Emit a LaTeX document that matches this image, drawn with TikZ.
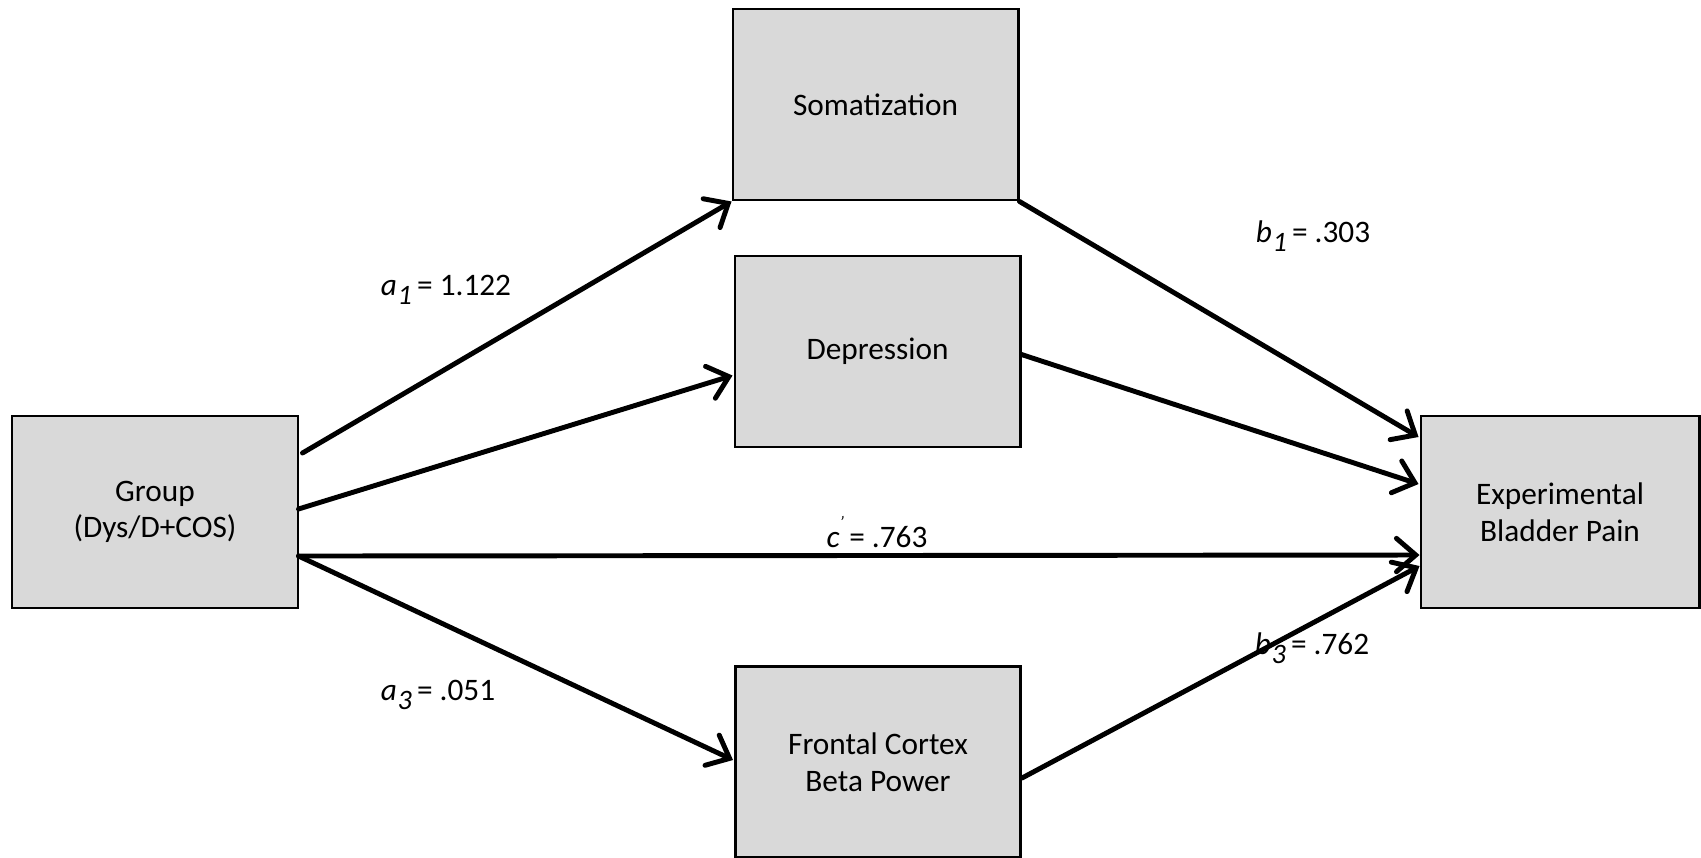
\documentclass[tikz,border=0pt]{standalone}
\usepackage{fontspec}
\setmainfont{Carlito}
\usepackage{xcolor}
\usetikzlibrary{arrows.meta}

\definecolor{boxgray}{HTML}{D9D9D9}
\newcommand{\idx}[1]{\hspace{0.02em}\raisebox{-0.6ex}{\footnotesize\textit{#1}}}

\begin{document}
\begin{tikzpicture}[x=0.01cm, y=-0.01cm,
	every node/.style={font=\fontsize{8.9}{10.4}\selectfont, align=center},
	box/.style={rectangle, draw, fill=boxgray, line width=0.8pt, inner sep=0pt, minimum width=2.85cm, minimum height=1.91cm},
	every path/.style={line width=1.4pt},
	link/.style={-{Straight Barb[length=5.5pt, width=9.5pt, line cap=round]}, line cap=round}]
			\useasboundingbox (0,0) rectangle (1701,857);
			% Nodes
			\node[box, minimum width=2.86cm, minimum height=1.92cm] (grp) at (155,512) {Group\\(Dys/D+COS)};
			\node[box] (soma) at (875.5,104.5) {Somatization};
			\node[box] (dep) at (877.5,351.5) {Depression};
			\node[box] (fcb) at (878,762) {Frontal Cortex\\Beta Power};
			\node[box, minimum width=2.78cm, minimum height=1.92cm] (pain) at (1560,512) {Experimental\\Bladder Pain};
			% Labels
			\node (la1) at (446,290) {\textit{a}\idx{1}\,= 1.122};
			\node (lb1) at (1313,236) {\textit{b}\idx{1}\,= .303};
			\node (lc) at (877,532) {\textit{c}\raisebox{1.3ex}{\tiny\textit{'}}\,= .763};
			\node (la3) at (438,695) {\textit{a}\idx{3}\,= .051};
			\node (lb3) at (1312,648) {\textit{b}\idx{3}\,= .762};
			% Edges
			\draw[link] ([shift={(3,-59)}]grp.east) -- (soma.south west);
			\draw[link] ([shift={(-1,-3)}]grp.east) -- ([shift={(-1,24)}]dep.west);
			\draw[link] ([shift={(-1,44)}]grp.east) -- ([shift={(0,43)}]pain.west);
			\draw[link] ([shift={(-1,44)}]grp.east) -- ([shift={(-1,-2)}]fcb.west);
			\draw[link] (soma.south east) -- ([shift={(-1,-75)}]pain.west);
			\draw[link] ([shift={(0,3)}]dep.east) -- ([shift={(-1,-28)}]pain.west);
			\draw[link] ([shift={(0,16)}]fcb.east) -- ([shift={(0,54)}]pain.west);
		\end{tikzpicture}
\end{document}
